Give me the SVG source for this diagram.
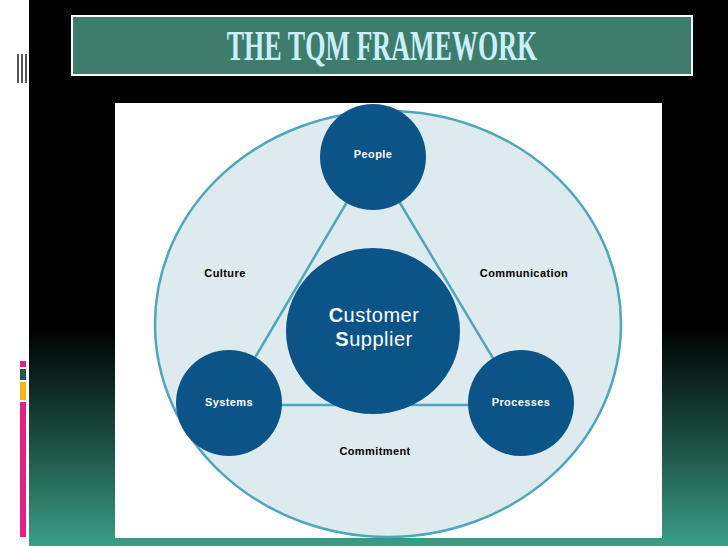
<svg xmlns="http://www.w3.org/2000/svg" width="728" height="546" viewBox="0 0 728 546">
<defs>
<linearGradient id="bg" x1="0" y1="0" x2="0" y2="1">
<stop offset="0" stop-color="#000"/>
<stop offset="0.6" stop-color="#000"/>
<stop offset="0.8" stop-color="#1a4b3f"/>
<stop offset="1" stop-color="#3a9e85"/>
</linearGradient>
<style>
.n{fill:#0b5488}
.l{font-family:"Liberation Sans",Arial,sans-serif;font-weight:bold;font-size:11px;text-anchor:middle;letter-spacing:0.4px}
.w{fill:#fff}
.e{stroke:#4ea6bb;stroke-width:2.5;fill:none}
</style>
</defs>
<rect width="728" height="546" fill="#fff"/>
<rect x="29" width="699" height="546" fill="url(#bg)"/>
<g fill="#555"><rect x="17" y="54" width="2" height="29"/><rect x="21" y="54" width="2" height="29"/><rect x="25" y="54" width="2" height="29"/></g>
<rect x="20" y="361" width="6" height="6" fill="#e0218a"/>
<rect x="20" y="369" width="6" height="11" fill="#1e5b4c"/>
<rect x="20" y="382" width="6" height="18" fill="#f7b515"/>
<rect x="20" y="402" width="6" height="135" fill="#e0218a"/>
<g id="title">
<rect x="72" y="16" width="620" height="59" fill="#3f7c6c" stroke="#fff" stroke-width="2"/>
<text transform="translate(382,60) scale(0.62,1)" text-anchor="middle" font-family="Liberation Serif,serif" font-weight="bold" font-size="42" fill="#c9f0fb">THE TQM FRAMEWORK</text>
</g>
<rect x="115" y="103" width="547" height="435" fill="#fff"/>
<ellipse id="outer" cx="388" cy="324" rx="233" ry="213" fill="#ddebef" stroke="#4ea6bb" stroke-width="2.5"/>
<g id="connectors">
<path class="e" d="M373,158 L227,405 L521,405 Z"/>
</g>
<g id="people"><circle class="n" cx="373" cy="157" r="53"/><text class="l w" x="373" y="158">People</text></g>
<g id="systems"><circle class="n" cx="229" cy="403" r="53"/><text class="l w" x="229" y="406">Systems</text></g>
<g id="processes"><circle class="n" cx="521" cy="403" r="53"/><text class="l w" x="521" y="406">Processes</text></g>
<g id="center"><ellipse class="n" cx="373" cy="331" rx="87" ry="83"/>
<text x="374" y="322" text-anchor="middle" font-family="Liberation Sans,Arial,sans-serif" font-size="20" fill="#fff" letter-spacing="0.5"><tspan font-weight="bold">C</tspan>ustomer</text>
<text x="374" y="346" text-anchor="middle" font-family="Liberation Sans,Arial,sans-serif" font-size="20" fill="#fff" letter-spacing="0.5"><tspan font-weight="bold">S</tspan>upplier</text></g>
<g id="culture"><text class="l" x="225" y="277">Culture</text></g>
<g id="communication"><text class="l" x="524" y="277">Communication</text></g>
<g id="commitment"><text class="l" x="375" y="455">Commitment</text></g>
</svg>
